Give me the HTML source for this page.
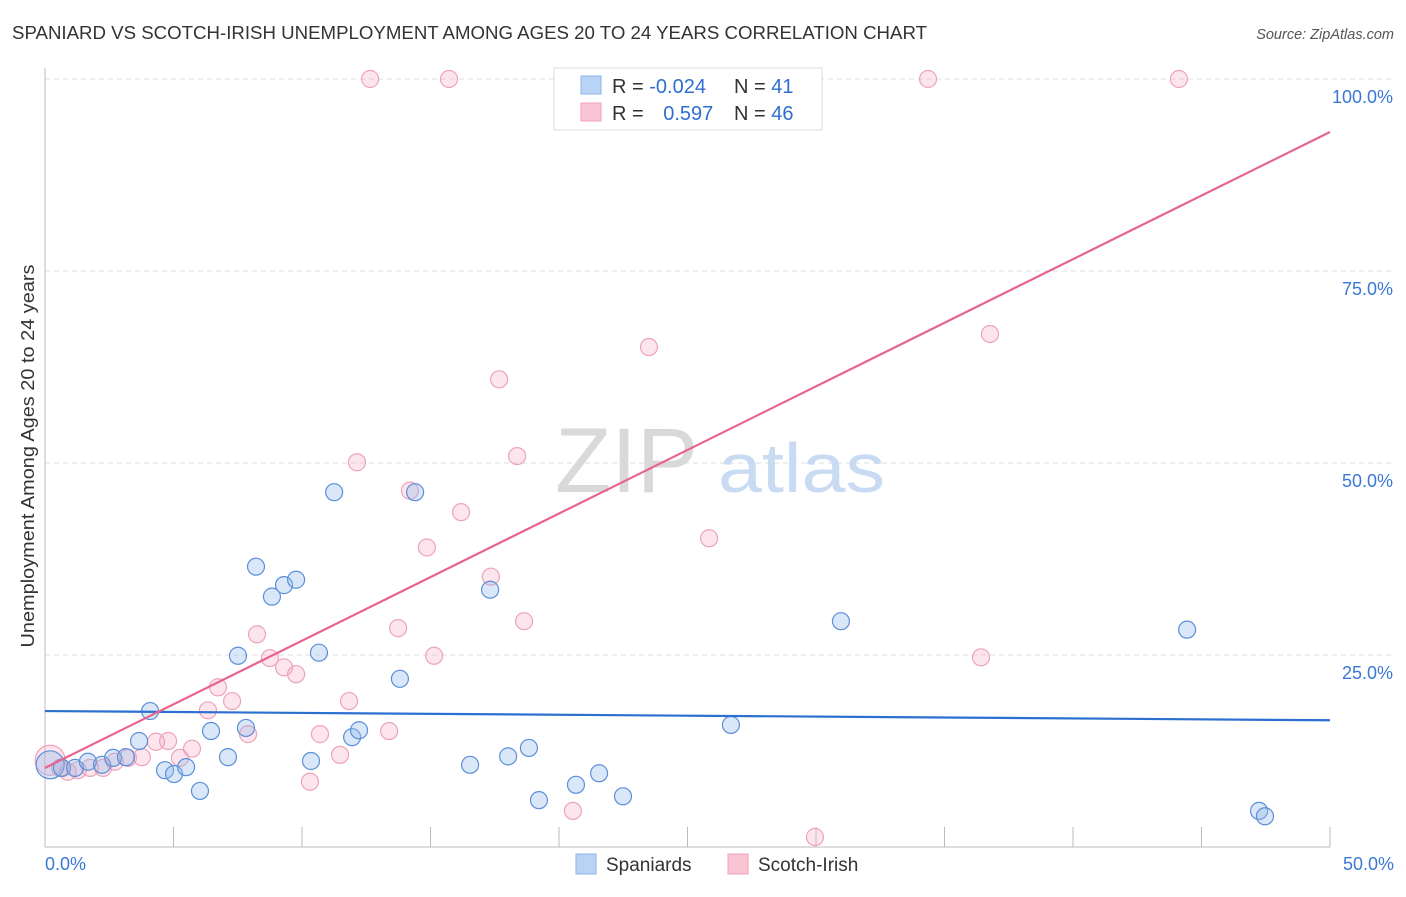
<!DOCTYPE html>
<html><head><meta charset="utf-8"><style>
body{margin:0;background:#fff;font-family:"Liberation Sans",sans-serif;}
svg text{font-family:"Liberation Sans",sans-serif;}
</style></head><body>
<svg id="c" width="1406" height="892">
<text x="12" y="39" font-size="18" fill="#333" textLength="915" lengthAdjust="spacingAndGlyphs">SPANIARD VS SCOTCH-IRISH UNEMPLOYMENT AMONG AGES 20 TO 24 YEARS CORRELATION CHART</text>
<text x="1394" y="39" font-size="14.5" fill="#555" font-style="italic" text-anchor="end">Source: ZipAtlas.com</text>
<text x="0" y="0" font-size="18" fill="#333" text-anchor="middle" textLength="383" lengthAdjust="spacingAndGlyphs" transform="translate(34,456) rotate(-90)">Unemployment Among Ages 20 to 24 years</text>
<g id="grid"></g>
<text x="555" y="492" font-size="92" fill="#d9d9d9" font-family="Liberation Serif">ZIP</text>
<text x="718" y="492" font-size="70" fill="#c9dbf2" textLength="167" lengthAdjust="spacingAndGlyphs">atlas</text>
<g id="pts"></g>
<g id="lines"></g>
<g>
<rect x="554" y="68" width="268" height="62" fill="#fff" stroke="#ddd"/>
<rect x="581" y="76" width="20" height="18" fill="#b9d3f5" stroke="#8db4e8"/>
<rect x="581" y="103" width="20" height="18" fill="#f9c5d5" stroke="#f0a3bb"/>
<text x="612" y="93" font-size="20" fill="#333">R = <tspan fill="#2f6fd0">-0.024</tspan></text>
<text x="734" y="93" font-size="20" fill="#333">N = <tspan fill="#2f6fd0"> 41</tspan></text>
<text x="612" y="120" font-size="20" fill="#333">R = <tspan fill="#2f6fd0" dx="14">0.597</tspan></text>
<text x="734" y="120" font-size="20" fill="#333">N = <tspan fill="#2f6fd0">46</tspan></text>
</g>
<g>
<rect x="576" y="854" width="20" height="20" fill="#b9d3f5" stroke="#8db4e8"/>
<text x="606" y="871" font-size="19" fill="#333">Spaniards</text>
<rect x="728" y="854" width="20" height="20" fill="#f9c5d5" stroke="#f0a3bb"/>
<text x="758" y="871" font-size="19" fill="#333">Scotch-Irish</text>
</g>
</svg>
<script>
const blueX=[0.2,0.66,1.17,1.67,2.22,2.65,3.15,3.66,4.09,4.67,5.02,5.49,6.03,6.46,7.12,7.51,7.82,8.21,8.83,9.30,9.77,10.35,10.66,11.25,11.95,12.22,13.81,14.40,16.54,17.32,18.02,18.83,19.22,20.66,21.56,22.49,26.69,30.97,44.44,47.24,47.47];
const blueY=[10.7,10.3,10.3,11.1,10.7,11.6,11.7,13.8,17.7,10.0,9.5,10.4,7.3,15.1,11.7,24.9,15.5,36.5,32.6,34.1,34.8,11.2,25.3,46.2,14.3,15.2,21.9,46.2,10.7,33.5,11.8,12.9,6.1,8.1,9.6,6.6,15.9,29.4,28.3,4.7,4.0];
const pinkX=[0.2,0.58,0.89,1.28,1.75,2.26,2.72,3.23,3.77,4.32,4.79,5.25,5.72,6.34,6.73,7.28,7.90,8.25,8.75,9.30,9.77,10.31,10.70,11.48,11.83,12.14,12.65,13.39,13.74,14.20,14.86,15.14,15.72,16.19,17.35,17.67,18.37,18.64,20.54,20.47,23.50,25.84,29.96,34.36,36.42,36.77,44.12];
const pinkY=[11.3,10.3,9.8,10.0,10.3,10.3,11.1,11.6,11.7,13.7,13.8,11.6,12.8,17.8,20.8,19.0,14.7,27.7,24.6,23.4,22.5,8.5,14.7,12.0,19.0,50.1,100,15.1,28.5,46.4,39.0,24.9,100,43.6,35.2,60.9,50.9,29.4,4.7,100,65.1,40.2,1.3,100,24.7,66.8,100];
const trendIntercept=[17.7,10.3];
const trendEnd=[16.5,93.1];
const yTicks=[25,50,75,100];
const xTicks=[0,5,10,15,20,25,30,35,40,45,50];
const NS="http://www.w3.org/2000/svg";
const X=v=>45+v*25.7, Y=v=>847-v*7.68;
function mk(t,a,p){const e=document.createElementNS(NS,t);for(const k in a)e.setAttribute(k,a[k]);p.appendChild(e);return e;}
const grid=document.getElementById('grid');
yTicks.forEach(t=>{
 const l=mk('line',{x1:45,x2:1393,y1:Y(t),y2:Y(t),stroke:'#ddd','stroke-dasharray':'5,4'},grid);
 
 
 const tx=mk('text',{x:1393,y:Y(t)+24,'font-size':18,fill:'#3b78d6','text-anchor':'end'},grid);
 tx.textContent=t.toFixed(1)+'%';
 
 
});
mk('line',{x1:45,x2:45,y1:68,y2:847,stroke:'#bbb'},grid);
mk('line',{x1:45,x2:1330,y1:847,y2:847,stroke:'#bbb'},grid);
xTicks.forEach(t=>{
 const l=mk('line',{x1:X(t),x2:X(t),y1:827,y2:847,stroke:'#bbb'},grid);
 
 
});
[[0,'start',45],[50,'end',1394]].forEach(([t,a,px])=>{
 const tx=mk('text',{x:px,y:870,'font-size':18,fill:'#3b78d6','text-anchor':a},grid);
 tx.textContent=t.toFixed(1)+'%';
 
 
});
const pts=document.getElementById('pts');
pinkX.forEach((x,i)=>{
 const c=mk('circle',{cx:X(x),cy:Y(pinkY[i]),r:i==0?15:8.5,fill:'rgba(245,170,195,0.3)',stroke:'#eea3ba','stroke-width':1.2},pts);
 
 
});
blueX.forEach((x,i)=>{
 const c=mk('circle',{cx:X(x),cy:Y(blueY[i]),r:i==0?14:8.5,fill:'rgba(147,187,235,0.35)',stroke:'#5b8fd8','stroke-width':1.2},pts);
 
 
});
const lines=document.getElementById('lines');
const cols=['#2b6fd0','#e8648f'], names=['spaniards-trendline','scotch-irish-trendline'];
trendIntercept.forEach((v,i)=>{
 const l=mk('line',{x1:X(0),y1:Y(v),x2:X(50),y2:Y(trendEnd[i]),stroke:cols[i],'stroke-width':2.2},lines);
 
 
});
</script>
</body></html>
